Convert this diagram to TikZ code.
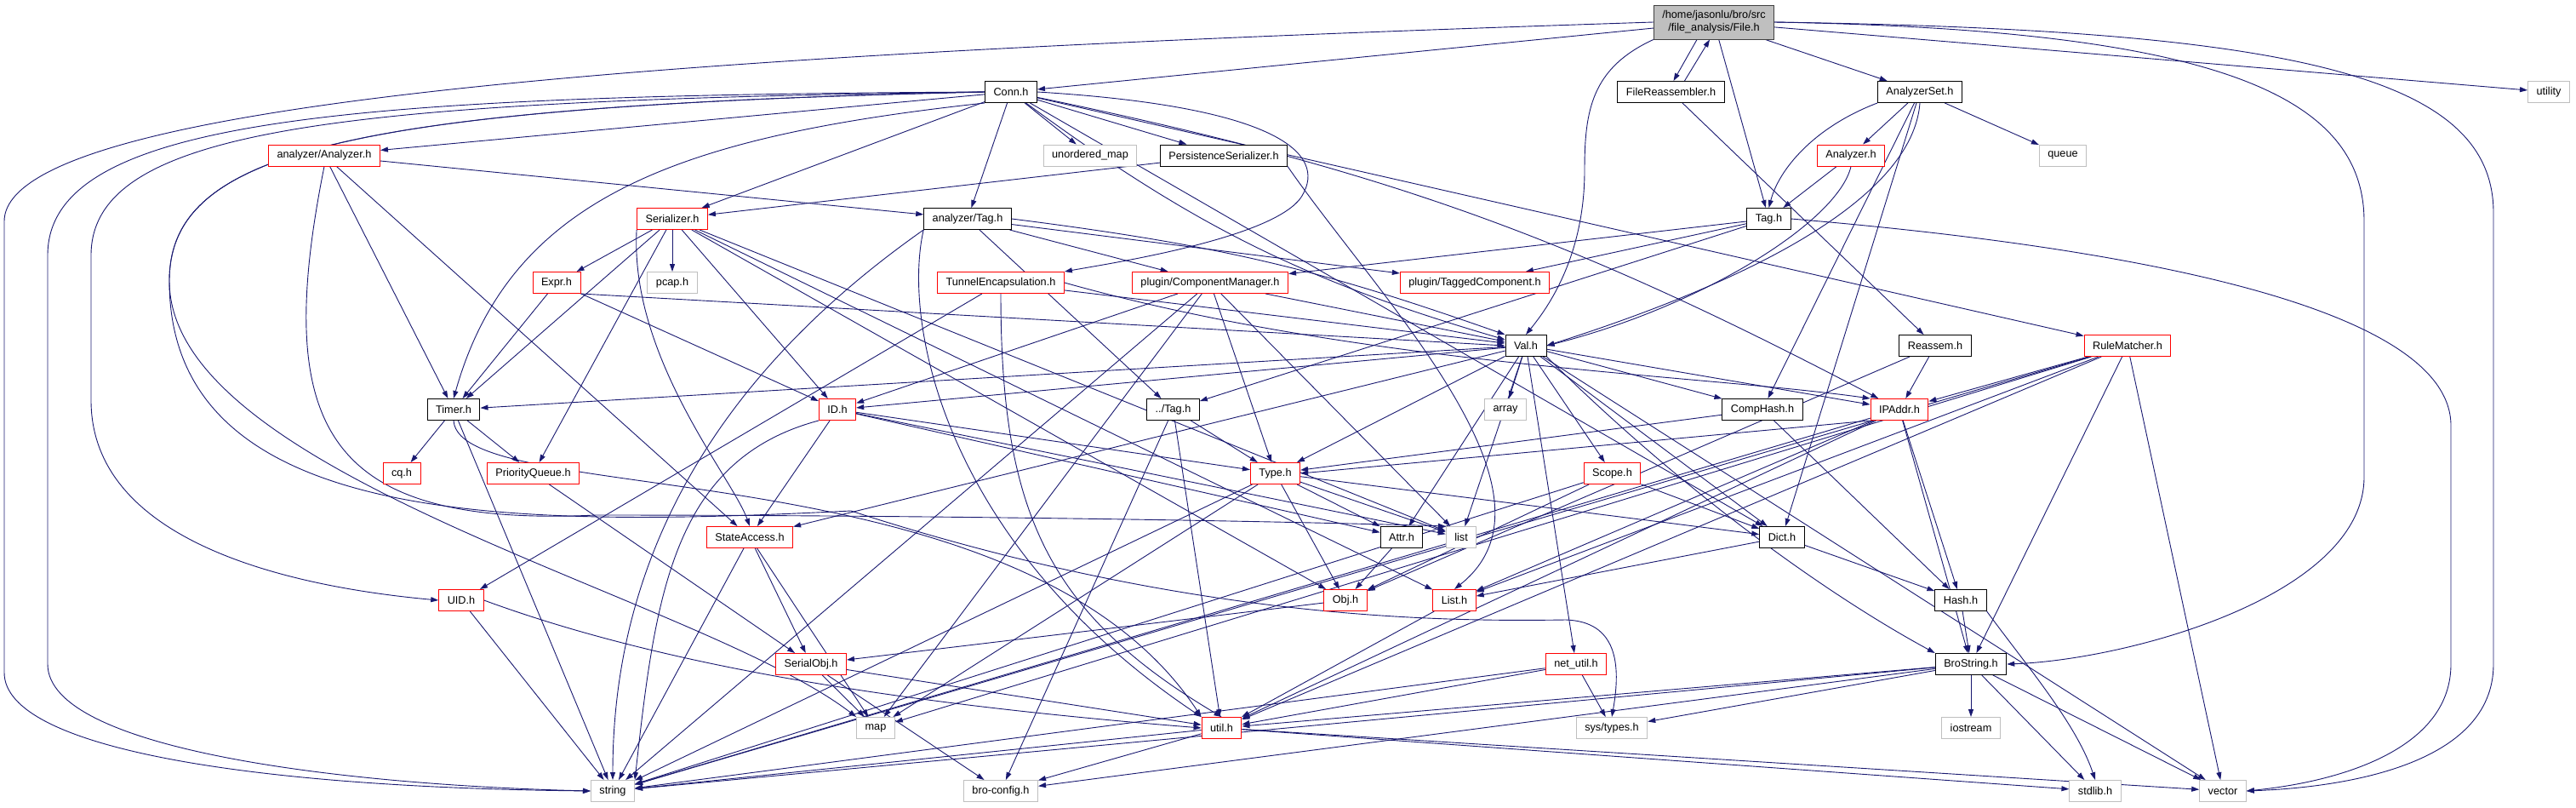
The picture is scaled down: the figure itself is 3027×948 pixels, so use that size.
\documentclass[tikz,border=0pt]{standalone}
\usepackage{fontspec}
\newfontfamily\graphfont{Liberation Sans}
\usetikzlibrary{arrows.meta,backgrounds}
\definecolor{edgeblue}{RGB}{25,25,112}
\definecolor{sysgrey}{RGB}{191,191,191}

\begin{document}
\begin{tikzpicture}[
    x=1pt, y=-1pt,
    font=\graphfont\fontsize{12.7}{15}\selectfont,
    % Style for the header boxes
    hdr/.style={
        draw=black, fill=white, line width=1pt,
        inner xsep=10pt, inner ysep=0pt, minimum height=25pt
    },
    hdrred/.style={hdr, draw=red},
    % Style for system headers
    sysinc/.style={hdr, draw=sysgrey},
    % Style for the include arrows
    inc/.style={
        draw=edgeblue, line width=0.9pt,
        -{Triangle[length=9pt, width=6pt]}
    }
]
\useasboundingbox (0,0) rectangle (3027,948);

% --- Top file ---
\node[hdr, fill=sysgrey, draw=black!75, align=center, minimum height=40pt] (file) at (2014,26)
    {/home/jasonlu/bro/src\\/file\_analysis/File.h};

% --- Row B ---
\node[hdr] (conn) at (1188,108) {Conn.h};
\node[hdr] (fre) at (1963.5,108) {FileReassembler.h};
\node[hdr] (aset) at (2256,108) {AnalyzerSet.h};
\node[sysinc] (utility) at (2995,108) {utility};

% --- Row C ---
\node[hdrred] (aana) at (381,182.5) {analyzer/Analyzer.h};
\node[sysinc] (umap) at (1281,182.5) {unordered\_map};
\node[hdr] (pser) at (1438,182.5) {PersistenceSerializer.h};
\node[hdrred] (ana) at (2175,182.5) {Analyzer.h};
\node[sysinc] (queue) at (2424,182.5) {queue};

% --- Row D ---
\node[hdrred] (ser) at (790,257) {Serializer.h};
\node[hdr] (atag) at (1137,257) {analyzer/Tag.h};
\node[hdr] (tag) at (2078.5,257) {Tag.h};

% --- Row E ---
\node[hdrred] (expr) at (654,332) {Expr.h};
\node[sysinc] (pcap) at (790,332) {pcap.h};
\node[hdrred] (tunnel) at (1176,332) {TunnelEncapsulation.h};
\node[hdrred] (pcm) at (1422,332) {plugin/ComponentManager.h};
\node[hdrred] (ptc) at (1733,332) {plugin/TaggedComponent.h};

% --- Row F ---
\node[hdr] (val) at (1793,406) {Val.h};
\node[hdr] (reassem) at (2274,406) {Reassem.h};
\node[hdrred] (rule) at (2500,406) {RuleMatcher.h};

% --- Row G ---
\node[hdr] (timer) at (533,481) {Timer.h};
\node[hdrred] (id) at (984,481) {ID.h};
\node[hdr] (dtag) at (1378.5,481) {../Tag.h};
\node[sysinc] (array) at (1769,481) {array};
\node[hdr] (comphash) at (2071,481) {CompHash.h};
\node[hdrred] (ipaddr) at (2232,481) {IPAddr.h};

% --- Row H ---
\node[hdrred] (cq) at (472,556) {cq.h};
\node[hdrred] (pq) at (626.5,556) {PriorityQueue.h};
\node[hdrred] (type) at (1498.5,556) {Type.h};
\node[hdrred] (scope) at (1894.5,556) {Scope.h};

% --- Row I ---
\node[hdrred] (sa) at (881,631) {StateAccess.h};
\node[hdr] (attr) at (1647,631) {Attr.h};
\node[sysinc] (list) at (1717,631) {list};
\node[hdr] (dict) at (2094,631) {Dict.h};

% --- Row J ---
\node[hdrred] (uid) at (542,705) {UID.h};
\node[hdrred] (obj) at (1581,705) {Obj.h};
\node[hdrred] (listh) at (1709,705) {List.h};
\node[hdr] (hash) at (2304,705) {Hash.h};

% --- Row K ---
\node[hdrred] (sobj) at (953,780) {SerialObj.h};
\node[hdrred] (netutil) at (1852,780) {net\_util.h};
\node[hdr] (bstr) at (2316,780) {BroString.h};

% --- Row L ---
\node[sysinc] (map) at (1029,855) {map};
\node[hdrred] (util) at (1435.5,855) {util.h};
\node[sysinc] (systypes) at (1894,855) {sys/types.h};
\node[sysinc] (iostream) at (2316,855) {iostream};

% --- Row M ---
\node[sysinc] (string) at (720,929) {string};
\node[sysinc] (broconfig) at (1176,929) {bro-config.h};
\node[sysinc] (stdlib) at (2462,929) {stdlib.h};
\node[sysinc] (vector) at (2612,929) {vector};

\begin{scope}[on background layer]
% --- Direct includes ---
\foreach \from/\to in {
    file/conn, file/tag, file/aset, file/utility,
    fre/reassem,
    aset/ana, aset/queue, aset/comphash, aset/dict,
    ana/tag,
    conn/aana, conn/umap, conn/pser, conn/ser, conn/atag, conn/dict, conn/rule,
    aana/atag, aana/timer, aana/sa,
    pser/ser,
    ser/expr, ser/pcap, ser/id, ser/pq, ser/timer, ser/list, ser/listh, ser/obj,
    atag/pcm, atag/ptc, atag/dtag,
    tag/pcm, tag/ptc, tag/dtag,
    expr/id, expr/timer,
    tunnel/val, tunnel/uid,
    pcm/val, pcm/id, pcm/type, pcm/map, pcm/list, pcm/string,
    val/timer, val/id, val/type, val/sa, val/attr, val/list, val/scope, val/array,
    val/dict, val/comphash, val/ipaddr, val/netutil, val/vector,
    reassem/ipaddr, reassem/obj,
    rule/ipaddr, rule/listh, rule/map, rule/util, rule/bstr, rule/string, rule/vector,
    timer/cq, timer/pq, timer/string,
    id/type, id/attr, id/sa, id/list,
    dtag/type, dtag/util, dtag/broconfig,
    comphash/type, comphash/hash,
    ipaddr/hash, ipaddr/bstr, ipaddr/util, ipaddr/string, ipaddr/listh,
    type/obj, type/attr, type/list, type/dict, type/map, type/string,
    scope/dict, scope/obj, scope/string,
    attr/obj,
    dict/listh, dict/hash,
    pq/sobj,
    sa/sobj, sa/map, sa/string,
    uid/string,
    obj/sobj,
    listh/util,
    sobj/map, sobj/util, sobj/broconfig,
    netutil/systypes, netutil/util, netutil/string,
    hash/bstr,
    bstr/util, bstr/systypes, bstr/iostream, bstr/stdlib, bstr/vector, bstr/string, bstr/broconfig,
    util/string, util/broconfig, util/stdlib, util/vector}
    \draw[inc] (\from) -- (\to);

% --- File.h <-> FileReassembler.h ---
\draw[inc] ([xshift=-20pt]file.south) -- ([xshift=3pt]fre.north);
\draw[inc] ([xshift=16pt]fre.north) -- ([xshift=-5pt]file.south);

% --- Bent includes, kept clear of other boxes ---
\draw[inc] (file.south west) .. controls (1870,80) and (1862,130) .. (1862,200)
    .. controls (1862,300) and (1820,360) .. (val.north);
\draw[inc] (aset.south west) .. controls (2130,150) and (2090,200) .. (tag.north);
\draw[inc] (aset.south) .. controls (2250,200) and (2150,300) .. (val.east);
\draw[inc] (ana.south) .. controls (2160,260) and (2000,360) .. (val.east);
\draw[inc] (conn.south west) .. controls (800,160) and (600,230) .. (timer.north);
\draw[inc] (conn) to[bend right=10] (val);
\draw[inc] (conn) to[bend left=8] (ipaddr);
\draw[inc] (pser.south east) .. controls (1620,350) and (1850,580) .. (listh.north);
\draw[inc] (ser.south west) .. controls (740,420) and (860,560) .. (sa.north);
\draw[inc] (expr.south east) -- (val.west);
\draw[inc] (atag.east) .. controls (1450,290) and (1560,320) .. (val.north west);
\draw[inc] (atag.south west) .. controls (900,400) and (720,600) .. (string.north);
\draw[inc] (atag.south west) .. controls (1060,380) and (1110,640) .. (util.north west);
\draw[inc] (tunnel.south) .. controls (1176,600) and (1230,720) .. (util.north);
\draw[inc] (tunnel.east) .. controls (1600,430) and (2000,440) .. (ipaddr.north west);
\draw[inc] (aana.south) .. controls (320,500) and (380,620) .. (700,605)
    .. controls (1100,605) and (1500,612) .. (list.north west);
\draw[inc] (timer.south) .. controls (540,600) and (1200,520) .. (util.north west);
\draw[inc] (id.south west) .. controls (790,540) and (770,700) .. (string.north east);
\draw[inc] (uid.east) .. controls (800,790) and (1100,830) .. (util.west);
\draw[inc] (val.south east) .. controls (1980,580) and (2150,700) .. (bstr.north west);
\draw[inc] (ipaddr.south west) -- (type.east);
\draw[inc] (hash.south east) .. controls (2380,780) and (2440,850) .. (stdlib.north);

% --- Long routes round the left side ---
\draw[inc] (file.west) .. controls (900,60) and (5,110) .. (5,260) -- (5,790)
    .. controls (5,880) and (300,925) .. (string.west);
\draw[inc] (conn.west) .. controls (400,112) and (56,140) .. (56,300) -- (56,780)
    .. controls (56,880) and (400,922) .. (string.west);
\draw[inc] (conn.west) .. controls (400,118) and (107,150) .. (107,300) -- (107,470)
    .. controls (107,640) and (350,690) .. (uid.west);
\draw[inc] (conn.west) .. controls (400,125) and (199,180) .. (199,330)
    .. controls (199,560) and (820,700) .. (map.north west);
\draw[inc] (conn.west) .. controls (400,125) and (199,180) .. (199,330)
    .. controls (199,620) and (600,620) .. (1000,600)
    .. controls (1400,730) and (1700,730) .. (1840,728)
    .. controls (1900,730) and (1905,780) .. (systypes.north);

% --- Loop into TunnelEncapsulation.h ---
\draw[inc] (conn.east) .. controls (1500,125) and (1560,180) .. (1530,230)
    .. controls (1500,280) and (1300,310) .. (tunnel.north east);

% --- Long routes round the right side ---
\draw[inc] (file.east) .. controls (2600,35) and (2778,110) .. (2778,260) -- (2778,560)
    .. controls (2778,700) and (2500,775) .. (bstr.east);
\draw[inc] (file.east) .. controls (2700,35) and (2930,90) .. (2930,250) -- (2930,780)
    .. controls (2930,900) and (2750,925) .. (vector.east);
\draw[inc] (tag.east) .. controls (2500,290) and (2880,360) .. (2880,500) -- (2880,780)
    .. controls (2880,880) and (2750,918) .. (vector.east);
\end{scope}

\end{tikzpicture}
\end{document}
